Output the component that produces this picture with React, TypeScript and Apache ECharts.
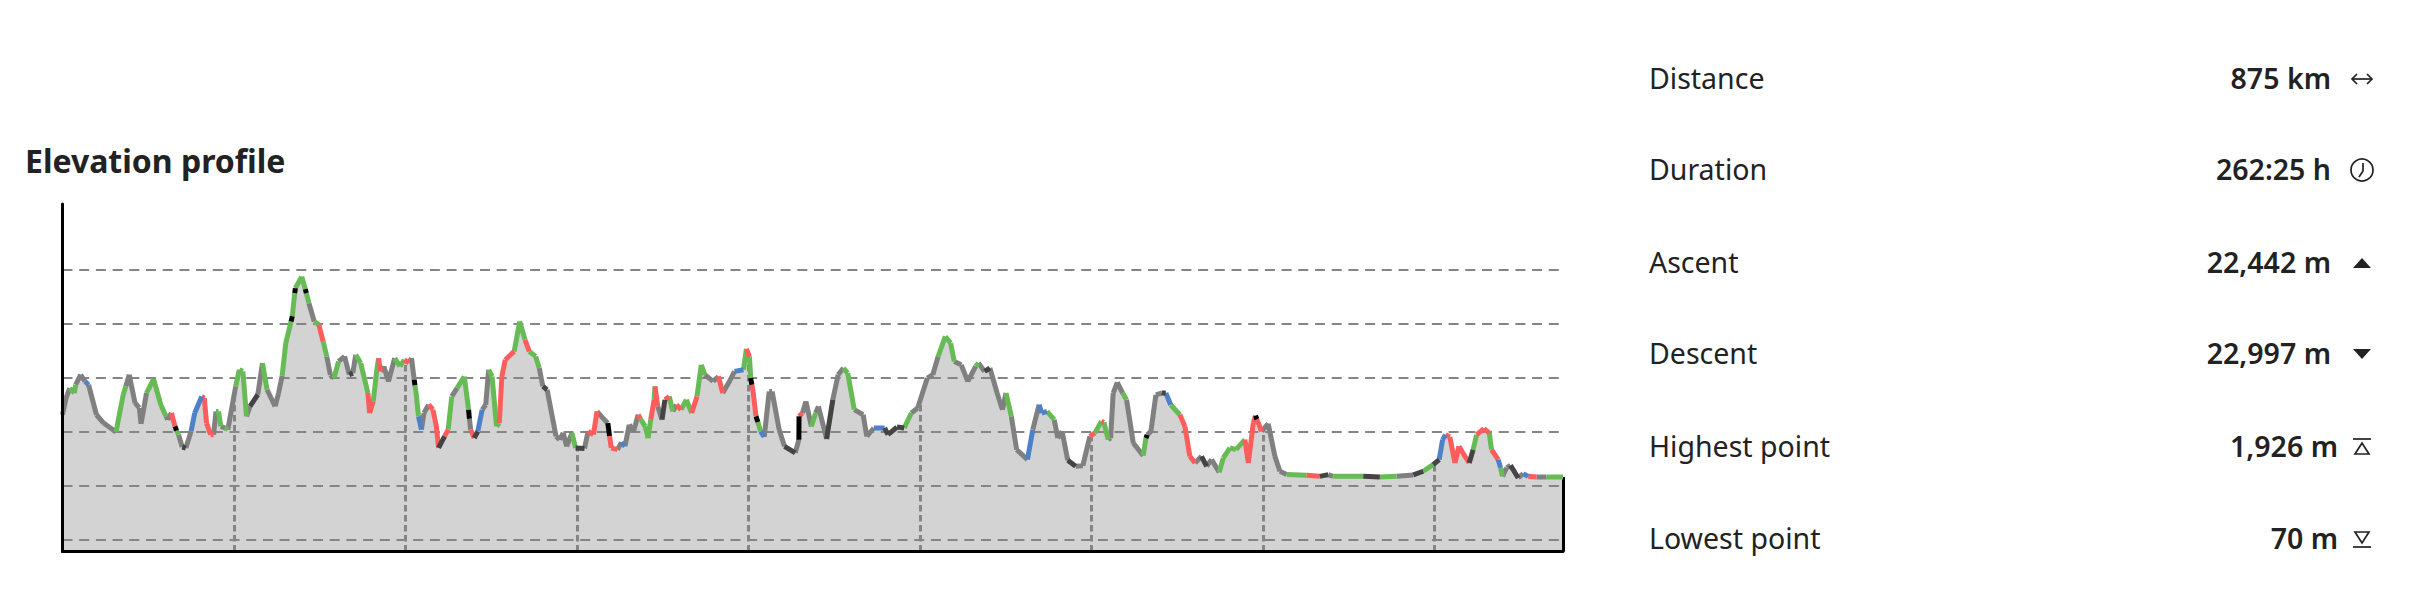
import React, { useEffect, useRef } from "react";
import * as echarts from "echarts";

const title = "Elevation profile";
const statLabels = ["Distance", "Duration", "Ascent", "Descent", "Highest point", "Lowest point"];
const statValues = ["875 km", "262:25 h", "22,442 m", "22,997 m", "1,926 m", "70 m"];
const gridLevels = [-500, 0, 500, 1000, 1500, 2000];
const distanceMarks = [100, 200, 300, 400, 500, 600, 700, 800];

// [km, metres, surface of the stretch that starts at this point]
const profile: [number, number, string][] = [
  [0,657,"g"],[2.1,812,"g"],[4.2,904,"n"],[6.9,858,"n"],[7.7,935,"g"],[10.6,1028,"g"],[13.1,966,"b"],[15.2,935,"g"],[19.8,657,"g"],[24,580,"g"],
  [31.2,497,"n"],[35.4,843,"n"],[36.9,920,"g"],[38.9,1028,"g"],[42.3,766,"g"],[44.8,720,"g"],[45.8,574,"g"],[49,858,"n"],[53.1,988,"n"],[57.3,750,"n"],
  [60.4,642,"g"],[61.4,611,"g"],[63.5,673,"r"],[65.6,549,"k"],[66.5,510,"n"],[67.7,472,"g"],[69.8,358,"d"],[71.9,349,"g"],[75,503,"b"],[77.1,673,"b"],
  [81.2,827,"r"],[82.7,812,"r"],[84,580,"r"],[86.4,472,"r"],[88.1,472,"g"],[89.5,688,"n"],[91,688,"n"],[92.3,549,"g"],[94.8,534,"n"],[96.4,518,"g"],
  [101,920,"n"],[103.1,1074,"n"],[105.2,1059,"n"],[107.3,642,"g"],[109.3,735,"d"],[113.9,843,"g"],[116.6,1136,"n"],[119.3,889,"g"],[124,735,"g"],[126,858,"g"],
  [128.1,1018,"n"],[130.2,1321,"n"],[133.3,1522,"k"],[134,1570,"n"],[135.4,1784,"k"],[135.8,1830,"n"],[139.5,1938,"n"],[141.6,1821,"k"],[142.2,1785,"n"],[143.7,1691,"g"],[146.8,1522,"n"],
  [149.5,1491,"r"],[152,1336,"n"],[154.1,1198,"g"],[156.2,1028,"g"],[158.3,997,"n"],[161,1151,"g"],[164.5,1198,"g"],[167.2,1028,"d"],[169.3,1043,"g"],[171,1213,"n"],
  [173.9,1136,"n"],[178.1,858,"r"],[179.1,673,"r"],[181.2,781,"n"],[183.3,1074,"n"],[184.3,1182,"r"],[185.4,1059,"g"],[187.4,1105,"g"],[190.1,966,"g"],[193.7,1182,"n"],
  [196.8,1105,"n"],[199.3,1167,"r"],[202,1136,"g"],[203.5,1182,"g"],[205.1,981,"k"],[205.5,930,"n"],[206.2,858,"n"],[207.6,642,"b"],[209.3,519,"g"],[210.8,673,"g"],[213.5,750,"r"],
  [216,704,"r"],[218,550,"r"],[219.3,349,"d"],[222.8,457,"r"],[224.9,519,"n"],[227,827,"g"],[230.1,904,"n"],[234.3,1012,"n"],[236.8,704,"k"],[237.3,620,"g"],[238,519,"r"],
  [240.1,441,"d"],[242.2,503,"b"],[244.7,704,"g"],[246.8,750,"g"],[248.5,1074,"n"],[250.5,1012,"n"],[253.1,549,"n"],[254.7,580,"r"],[256.2,1012,"r"],[258.2,1167,"r"],
  [263.4,1244,"n"],[266.6,1522,"n"],[269.7,1352,"r"],[272.2,1244,"n"],[275.9,1198,"n"],[278,1090,"g"],[280.1,920,"d"],[282.6,889,"g"],[287.8,457,"g"],[289.9,426,"g"],
  [292,488,"g"],[294,364,"g"],[297.1,488,"n"],[299.2,349,"d"],[304.4,343,"g"],[306.5,503,"r"],[309.6,472,"r"],[311.7,688,"g"],[315.9,611,"g"],[318,580,"k"],
  [319,460,"r"],[320,349,"r"],[323.6,333,"g"],[325.9,401,"b"],[328,364,"g"],[330.5,565,"g"],[333,503,"g"],[335.7,657,"r"],[337,620,"n"],[339.8,549,"n"],[341.5,441,"n"],
  [343,611,"r"],[345,796,"n"],[345.5,920,"r"],[347.1,735,"g"],[349.6,611,"d"],[351.3,796,"r"],[353.8,827,"n"],[355.9,688,"g"],[358,750,"r"],[360.7,704,"n"],
  [363.8,796,"n"],[366.9,673,"r"],[370,827,"n"],[372.5,1120,"n"],[374.6,1028,"g"],[379.4,966,"g"],[382.5,1012,"r"],[385,858,"g"],[388.4,951,"g"],[391.9,1059,"b"],
  [397.1,1074,"n"],[398.8,1268,"r"],[400.6,1197,"n"],[401.3,997,"k"],[402,935,"r"],[402.7,873,"r"],[404.4,642,"k"],[405.5,590,"n"],[407.1,503,"b"],[409.2,451,"g"],[412.1,873,"g"],
  [413.8,873,"g"],[417.9,519,"g"],[421,364,"d"],[427.3,303,"g"],[429.4,426,"k"],[429.5,642,"r"],[431.5,673,"g"],[433.5,781,"g"],[436.7,549,"n"],[439.2,673,"g"],
  [440.8,735,"g"],[445.6,432,"d"],[449.2,796,"g"],[452.3,1028,"g"],[455.4,1090,"n"],[457.9,1043,"n"],[461.7,704,"g"],[466.9,657,"g"],[469,457,"g"],[473.1,534,"b"],
  [479.4,534,"d"],[481.4,472,"d"],[486.6,543,"d"],[490.8,534,"n"],[495,673,"g"],[498.7,719,"g"],[504.3,997,"g"],[507.5,1028,"g"],[510.6,1197,"n"],[514.8,1383,"n"],
  [517.9,1321,"n"],[520,1151,"g"],[524.1,1120,"g"],[527.9,966,"g"],[532.5,1105,"n"],[534.1,1136,"g"],[537.7,1059,"d"],[540.8,1090,"g"],[545,858,"g"],[548.1,704,"g"],
  [550.2,858,"n"],[553.3,642,"g"],[556.4,333,"g"],[562.7,241,"b"],[565.8,518,"g"],[569.5,750,"b"],[571,673,"b"],[574.1,688,"n"],[578.3,611,"g"],[580.4,441,"g"],
  [582.9,503,"g"],[586.2,235,"d"],[590.8,179,"g"],[595,185,"g"],[599.1,457,"r"],[602,488,"n"],[605.9,596,"r"],[607.3,586,"n"],[609.8,426,"g"],[611.2,441,"g"],
  [612.7,858,"g"],[615.1,957,"g"],[618.2,858,"n"],[620.5,796,"g"],[624.4,395,"g"],[630.2,278,"n"],[631.8,441,"k"],[632.5,470,"g"],[634.7,503,"g"],[637.6,842,"g"],
  [640.9,858,"d"],[643.4,858,"b"],[646.2,750,"n"],[651.6,657,"r"],[654.5,549,"r"],[657.4,272,"r"],[660.4,210,"g"],[664.2,272,"d"],[667.2,179,"g"],[670.1,241,"g"],
  [674.5,123,"n"],[676.9,256,"n"],[680.8,349,"n"],[684.3,333,"n"],[689.5,426,"r"],[691.5,210,"r"],[694.4,580,"r"],[695.7,648,"k"],[696.5,615,"r"],[699.2,503,"g"],[703.1,574,"g"],
  [707,272,"g"],[709.9,133,"g"],[713.8,102,"n"],[725.5,96,"r"],[733.2,86,"d"],[738.1,102,"g"],[741,86,"n"],[758.5,86,"d"],[768.2,80,"n"],[778,86,"g"],
  [787.7,99,"d"],[793.5,133,"n"],[799.3,194,"d"],[802.8,241,"b"],[804.8,426,"b"],[806.5,472,"r"],[809,451,"r"],[812,210,"r"],[814.3,364,"r"],[817.8,272,"r"],
  [820.3,210,"d"],[822.6,333,"n"],[824.6,472,"r"],[828.9,528,"r"],[832,488,"n"],[833.3,333,"r"],[837.2,241,"b"],[838.6,164,"n"],[839.7,86,"g"],[842.1,164,"g"],
  [844.4,188,"d"],[848.9,71,"g"],[851.8,111,"b"],[854.7,86,"r"],[859.6,80,"g"],[865.4,80,"n"],[875,80,"n"],
];

const surfaceColors: Record<string, string> = {
  g: "#808080", n: "#66bb55", r: "#ff5c5c", b: "#4f81c9", k: "#000000", d: "#444444",
};

const elevationAt = (km: number) => {
  const i = profile.findIndex((p) => p[0] >= km);
  const a = profile[Math.max(i - 1, 0)];
  const b = profile[i];
  return b[0] === a[0] ? b[1] : a[1] + ((b[1] - a[1]) * (km - a[0])) / (b[0] - a[0]);
};

function surfaceSeries(code: string) {
  const data: any[] = [];
  for (let i = 0; i < profile.length - 1; i++) {
    if (profile[i][2] !== code) continue;
    data.push([profile[i][0], profile[i][1]], [profile[i + 1][0], profile[i + 1][1]], [profile[i + 1][0], "-"]);
  }
  return {
    type: "line", name: code, data, z: 10, symbol: "none", silent: true, connectNulls: false,
    lineStyle: { color: surfaceColors[code], width: 5, join: "round", cap: "butt" },
  };
}

const Y_MIN = -611;
const Y_MAX = 2611;
const TEXT = "#222222";
const FONT = "'Noto Sans', sans-serif";
const ROW_Y = [78, 169, 262, 353, 446, 538];
const ICON_Y = [79, 170, 263, 354, 447, 539];
const VALUE_RIGHT = [2331, 2331, 2331, 2331, 2338, 2338];

function icon(i: number) {
  const cx = 2362;
  const cy = ICON_Y[i];
  const stroke = { stroke: TEXT, lineWidth: 1.7, fill: "none" };
  const solid = { fill: TEXT };
  switch (i) {
    case 0:
      return [
        { type: "line", shape: { x1: cx - 10, y1: cy, x2: cx + 10, y2: cy }, style: stroke },
        { type: "polyline", shape: { points: [[cx - 5, cy - 5], [cx - 10, cy], [cx - 5, cy + 5]] }, style: stroke },
        { type: "polyline", shape: { points: [[cx + 5, cy - 5], [cx + 10, cy], [cx + 5, cy + 5]] }, style: stroke },
      ];
    case 1:
      return [
        { type: "circle", shape: { cx, cy, r: 11 }, style: stroke },
        { type: "polyline", shape: { points: [[cx + 1, cy - 7], [cx + 1, cy + 1], [cx - 3, cy + 7]] }, style: stroke },
      ];
    case 2:
      return [{ type: "polygon", shape: { points: [[cx - 9, cy + 5], [cx + 9, cy + 5], [cx, cy - 5]] }, style: solid }];
    case 3:
      return [{ type: "polygon", shape: { points: [[cx - 9, cy - 5], [cx + 9, cy - 5], [cx, cy + 5]] }, style: solid }];
    case 4:
      return [
        { type: "line", shape: { x1: cx - 9, y1: cy - 8, x2: cx + 9, y2: cy - 8 }, style: stroke },
        { type: "polygon", shape: { points: [[cx - 7, cy + 7], [cx + 7, cy + 7], [cx, cy - 4]] }, style: stroke },
      ];
    default:
      return [
        { type: "line", shape: { x1: cx - 9, y1: cy + 8, x2: cx + 9, y2: cy + 8 }, style: stroke },
        { type: "polygon", shape: { points: [[cx - 7, cy - 7], [cx + 7, cy - 7], [cx, cy + 4]] }, style: stroke },
      ];
  }
}

export default function App() {
  const ref = useRef<HTMLDivElement>(null);
  useEffect(() => {
    if (!ref.current) return;
    const chart = echarts.init(ref.current, undefined, { renderer: "svg" });
    const last = profile[profile.length - 1];
    const graphic: any[] = [
      {
        type: "text", x: 25, y: 160,
        style: { text: title, fill: TEXT, font: `700 32px ${FONT}`, textAlign: "left", textVerticalAlign: "middle" },
      },
    ];
    statLabels.forEach((label, i) => {
      graphic.push({
        type: "text", x: 1649, y: ROW_Y[i],
        style: { text: label, fill: TEXT, font: `400 28.5px ${FONT}`, textAlign: "left", textVerticalAlign: "middle" },
      });
      graphic.push({
        type: "text", x: VALUE_RIGHT[i], y: ROW_Y[i],
        style: { text: statValues[i], fill: TEXT, font: `600 28.5px ${FONT}`, textAlign: "right", textVerticalAlign: "middle" },
      });
      graphic.push(...icon(i));
    });
    chart.setOption({
      animation: false,
      backgroundColor: "#ffffff",
      grid: { left: 62.5, right: 863, top: 204, bottom: 45.5 },
      xAxis: {
        type: "value", min: 0, max: 875, z: 20,
        axisLine: { show: true, onZero: false, lineStyle: { color: "#000", width: 3 } },
        axisTick: { show: false }, axisLabel: { show: false }, splitLine: { show: false },
      },
      yAxis: {
        type: "value", min: Y_MIN, max: Y_MAX, z: 20,
        axisLine: { show: true, onZero: false, lineStyle: { color: "#000", width: 3 } },
        axisTick: { show: false }, axisLabel: { show: false }, splitLine: { show: false },
      },
      graphic,
      series: [
        {
          type: "line", name: "elevation", z: 1, symbol: "none", silent: true,
          data: profile.map((p) => [p[0], p[1]]),
          lineStyle: { width: 0 }, areaStyle: { color: "#d3d3d3", opacity: 1, origin: "start" },
          markLine: {
            silent: true, symbol: "none", z: 5, label: { show: false }, animation: false,
            data: [
              ...gridLevels.map((v) => ({
                yAxis: v,
                lineStyle: { color: "#858585", width: 2.2, type: [10, 6.7] },
              })),
              ...distanceMarks.map((km) => [
                { coord: [km, Y_MIN], lineStyle: { color: "#858585", width: 3, type: [6.6, 3.4] } },
                { coord: [km, elevationAt(km)] },
              ]),
              [
                { coord: [last[0], Y_MIN], lineStyle: { color: "#000", width: 3, type: "solid" } },
                { coord: [last[0], last[1]] },
              ],
            ],
          },
        },
        ...Object.keys(surfaceColors).map(surfaceSeries),
      ],
    });
    return () => chart.dispose();
  }, []);
  return <div ref={ref} style={{ position: "absolute", left: 0, top: 0, width: 2426, height: 597 }} />;
}
